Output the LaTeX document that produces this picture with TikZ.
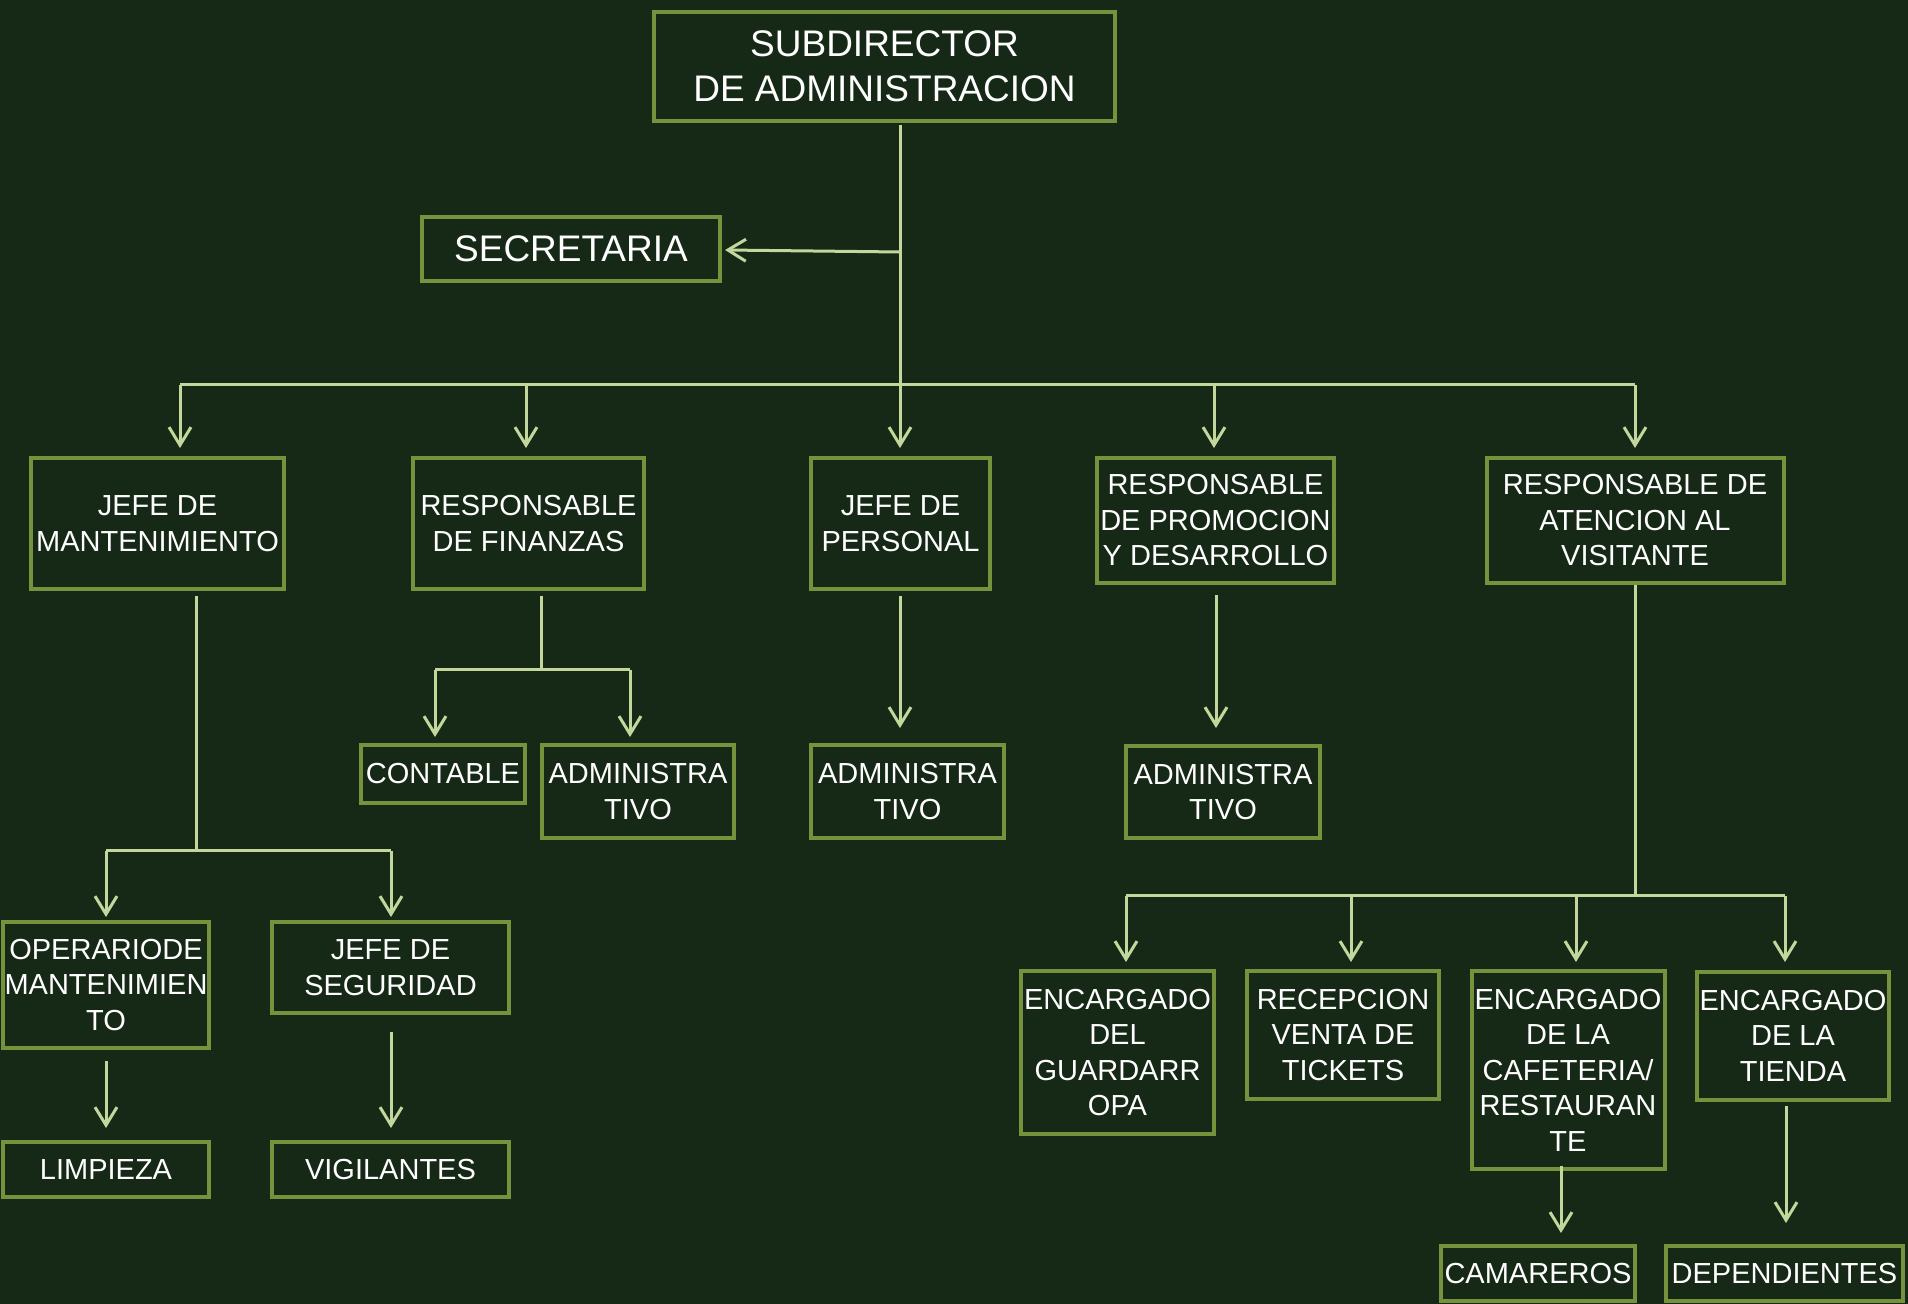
\documentclass[tikz,border=0pt]{standalone}
\usepackage{fontspec}
\setmainfont{Liberation Sans}
\usetikzlibrary{arrows.meta}
\definecolor{bg}{RGB}{21,41,22}
\definecolor{boxc}{RGB}{118,146,60}
\definecolor{linkc}{RGB}{195,214,155}
\begin{document}
\begin{tikzpicture}[x=0.5pt,y=-0.5pt,
  box/.style={draw=boxc, line width=2pt, fill=bg, text=white, align=center,
    inner sep=0pt, font=\fontsize{14.5}{17.75}\selectfont},
  bigbox/.style={box, font=\fontsize{18.5}{22.5}\selectfont},
  link/.style={draw=linkc, line width=1.5pt},
  arr/.style={link, -{Straight Barb[length=9pt,width=11pt]}}]
% canvas
\fill[bg] (0,0) rectangle (1908,1304);
\useasboundingbox (0,0) rectangle (1908,1304);

% ---------- boxes ----------
\node[bigbox, minimum width=230.5pt, minimum height=54.5pt] (sub) at (884.5,66.5) {SUBDIRECTOR\\DE ADMINISTRACION};
\node[bigbox, minimum width=149pt, minimum height=32pt] (sec) at (571,249) {SECRETARIA};

\node[box, minimum width=126.5pt, minimum height=65.5pt] (jm) at (157.5,523.5) {JEFE DE\\MANTENIMIENTO};
\node[box, minimum width=115.5pt, minimum height=65.5pt] (rf) at (528.5,523.5) {RESPONSABLE\\DE FINANZAS};
\node[box, minimum width=89.5pt, minimum height=65.5pt] (jp) at (900.5,523.5) {JEFE DE\\PERSONAL};
\node[box, minimum width=118.5pt, minimum height=62.5pt] (rp) at (1215.5,520.5) {RESPONSABLE\\DE PROMOCION\\Y DESARROLLO};
\node[box, minimum width=148.5pt, minimum height=62.5pt] (ra) at (1635,520.5) {RESPONSABLE DE\\ATENCION AL\\VISITANTE};

\node[box, minimum width=103pt, minimum height=63pt] (op) at (106,985) {OPERARIODE\\MANTENIMIEN\\TO};
\node[box, minimum width=118.5pt, minimum height=45.5pt] (js) at (390.5,967.5) {JEFE DE\\SEGURIDAD};
\node[box, minimum width=103pt, minimum height=27.5pt] (li) at (106,1169.5) {LIMPIEZA};
\node[box, minimum width=118.5pt, minimum height=27.5pt] (vi) at (390.5,1169.5) {VIGILANTES};

\node[box, minimum width=82pt, minimum height=29pt] (co) at (443,774) {CONTABLE};
\node[box, minimum width=96pt, minimum height=46.5pt] (ad1) at (638,791.5) {ADMINISTRA\\TIVO};
\node[box, minimum width=96.5pt, minimum height=46.5pt] (ad2) at (907.5,791.5) {ADMINISTRA\\TIVO};
\node[box, minimum width=97pt, minimum height=46pt] (ad3) at (1223,792) {ADMINISTRA\\TIVO};

\node[box, minimum width=96.5pt, minimum height=81.5pt] (eg) at (1117.5,1052.5) {ENCARGADO\\DEL\\GUARDARR\\OPA};
\node[box, minimum width=96pt, minimum height=64pt] (rv) at (1343,1035) {RECEPCION\\VENTA DE\\TICKETS};
\node[box, minimum width=96.5pt, minimum height=99pt] (ec) at (1568,1070) {ENCARGADO\\DE LA\\CAFETERIA/\\RESTAURAN\\TE};
\node[box, minimum width=96pt, minimum height=64pt] (et) at (1793,1035.5) {ENCARGADO\\DE LA\\TIENDA};
\node[box, minimum width=97pt, minimum height=27.5pt] (ca) at (1538,1273.5) {CAMAREROS};
\node[box, minimum width=118.5pt, minimum height=27.5pt] (de) at (1784.5,1273.5) {DEPENDIENTES};

% ---------- junction points ----------
\coordinate (tTop) at (900,125);
\coordinate (tSec) at (900,252);
\coordinate (secTip) at (725,250);
\coordinate (busL) at (180,385);
\coordinate (busR) at (1635,385);
\foreach \n/\x in {b1/180,b2/526,b3/900,b4/1214,b5/1635}{
  \coordinate (\n) at (\x,385);
  \coordinate (\n t) at (\x,448);
}
% maintenance branch
\coordinate (jmA) at (196,596);
\coordinate (jmB) at (196,851);
\coordinate (jmL) at (106,851);
\coordinate (jmR) at (391,851);
\coordinate (jmLt) at (106,917);
\coordinate (jmRt) at (391,917);
% finance branch
\coordinate (rfA) at (541,596);
\coordinate (rfB) at (541,670);
\coordinate (rfL) at (435,670);
\coordinate (rfR) at (630,670);
\coordinate (rfLt) at (435,737);
\coordinate (rfRt) at (630,737);
% personnel and promotion
\coordinate (jpA) at (900,596);
\coordinate (jpt) at (900,728);
\coordinate (rpA) at (1216,595);
\coordinate (rpt) at (1216,728);
% visitor branch
\coordinate (raA) at (1635,585);
\coordinate (raB) at (1635,896);
\coordinate (raL) at (1126,896);
\coordinate (raR) at (1785,896);
\foreach \n/\x in {v1/1126,v2/1351,v3/1576,v4/1785}{
  \coordinate (\n) at (\x,896);
  \coordinate (\n t) at (\x,962);
}
% lower single links
\coordinate (opA) at (106,1061);
\coordinate (opt) at (106,1128);
\coordinate (jsA) at (391,1032);
\coordinate (jst) at (391,1128);
\coordinate (ecA) at (1561,1166);
\coordinate (ect) at (1561,1233);
\coordinate (etA) at (1786,1106);
\coordinate (ett) at (1786,1223);

% ---------- connectors ----------
\draw[link] (tTop) -- (b3);
\draw[arr] (tSec) -- (secTip);
\draw[link] (busL) -- (busR);
\foreach \n in {b1,b2,b3,b4,b5} \draw[arr] (\n) -- (\n t);

\draw[link] (jmA) -- (jmB);
\draw[link] (jmL) -- (jmR);
\draw[arr] (jmL) -- (jmLt);
\draw[arr] (jmR) -- (jmRt);

\draw[link] (rfA) -- (rfB);
\draw[link] (rfL) -- (rfR);
\draw[arr] (rfL) -- (rfLt);
\draw[arr] (rfR) -- (rfRt);

\draw[arr] (jpA) -- (jpt);
\draw[arr] (rpA) -- (rpt);

\draw[link] (raA) -- (raB);
\draw[link] (raL) -- (raR);
\foreach \n in {v1,v2,v3,v4} \draw[arr] (\n) -- (\n t);

\draw[arr] (opA) -- (opt);
\draw[arr] (jsA) -- (jst);
\draw[arr] (ecA) -- (ect);
\draw[arr] (etA) -- (ett);
\end{tikzpicture}
\end{document}
